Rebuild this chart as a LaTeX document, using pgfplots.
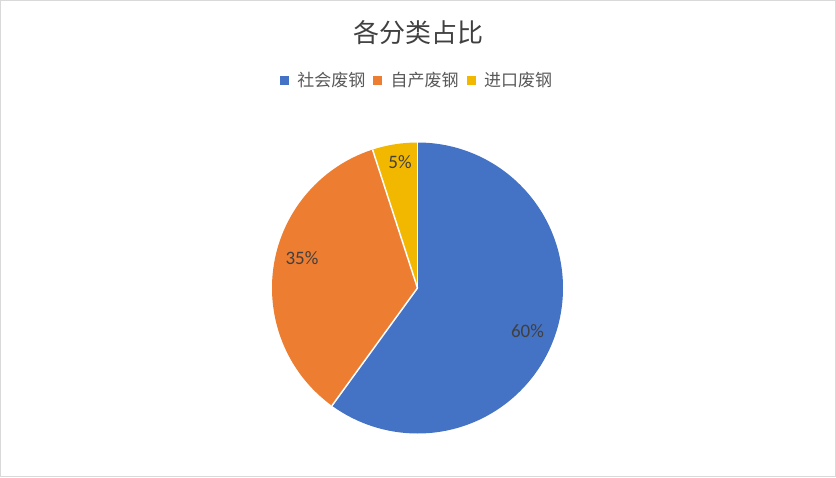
\documentclass[border=0pt]{standalone}
\usepackage{pgfplots}
\usepackage{pgfplotstable}
\usepackage{fontspec}
\pgfplotsset{compat=1.18}
\setmainfont{Carlito}
\newfontfamily\cjk{Noto Sans CJK SC}

\definecolor{cBlue}{HTML}{4472C4}
\definecolor{cOrange}{HTML}{ED7D31}
\definecolor{cYellow}{HTML}{F2B800}
\definecolor{txt}{HTML}{595959}
\definecolor{lbl}{HTML}{404040}

% share in percent, label position (axis units, radius = 1)
\pgfplotstableread{
name value lx ly label
social 60 0.756 -0.299 60\%
own 35 -0.794 0.203 35\%
import 5 -0.120 0.863 5\%
}\piedata

\begin{document}
\begin{tikzpicture}[x=1pt,y=1pt]
\draw[color=black!15, line width=1pt] (0.5,0.5) rectangle (835.5,476.5);

\pgfplotstablegetelem{0}{value}\of\piedata \let\va\pgfplotsretval
\pgfplotstablegetelem{1}{value}\of\piedata \let\vb\pgfplotsretval
\pgfplotstablegetelem{2}{value}\of\piedata \let\vc\pgfplotsretval
\pgfmathsetmacro{\aA}{90}
\pgfmathsetmacro{\aB}{\aA-3.6*\va}
\pgfmathsetmacro{\aC}{\aB-3.6*\vb}
\pgfmathsetmacro{\aD}{\aC-3.6*\vc}
\def\R{145.5pt}

\node[font=\cjk\fontsize{26}{30}\selectfont, text=lbl] at (418,444) {各分类占比};

\begin{axis}[
    at={(417.5pt,189pt)}, anchor=center,
    scale only axis, width=291pt, height=291pt,
    xmin=-1, xmax=1, ymin=-1, ymax=1,
    hide axis, clip=false,
    legend columns=3,
    legend style={draw=none, fill=none, at={(0.5,1.215)}, anchor=center,
        font=\cjk\fontsize{17}{20}\selectfont, text=txt,
        nodes={inner xsep=3pt, inner ysep=1pt},
        /tikz/every odd column/.append style={column sep=6pt},
        /tikz/every even column/.append style={column sep=5pt}},
]
\fill[cBlue] (axis cs:0,0) -- ++(\aA:\R) arc[start angle=\aA, end angle=\aB, radius=\R] -- cycle;
\fill[cOrange] (axis cs:0,0) -- ++(\aB:\R) arc[start angle=\aB, end angle=\aC, radius=\R] -- cycle;
\fill[cYellow] (axis cs:0,0) -- ++(\aC:\R) arc[start angle=\aC, end angle=\aD, radius=\R] -- cycle;
\draw[white, line width=1.5pt] (axis cs:0,0) -- ++(\aA:\R);
\draw[white, line width=1.5pt] (axis cs:0,0) -- ++(\aB:\R);
\draw[white, line width=1.5pt] (axis cs:0,0) -- ++(\aC:\R);

\addplot[forget plot, draw=none, mark=none, nodes near coords, point meta=explicit symbolic,
    every node near coord/.style={anchor=center, text=lbl, font=\fontsize{19}{22}\selectfont}]
    table[x=lx, y=ly, meta=label] {\piedata};

\addlegendimage{legend image code/.code={\fill[cBlue] (0pt,-4pt) rectangle (8pt,4pt);}}
\addlegendentry{社会废钢}
\addlegendimage{legend image code/.code={\fill[cOrange] (0pt,-4pt) rectangle (8pt,4pt);}}
\addlegendentry{自产废钢}
\addlegendimage{legend image code/.code={\fill[cYellow] (0pt,-4pt) rectangle (8pt,4pt);}}
\addlegendentry{进口废钢}
\end{axis}
\end{tikzpicture}
\end{document}
